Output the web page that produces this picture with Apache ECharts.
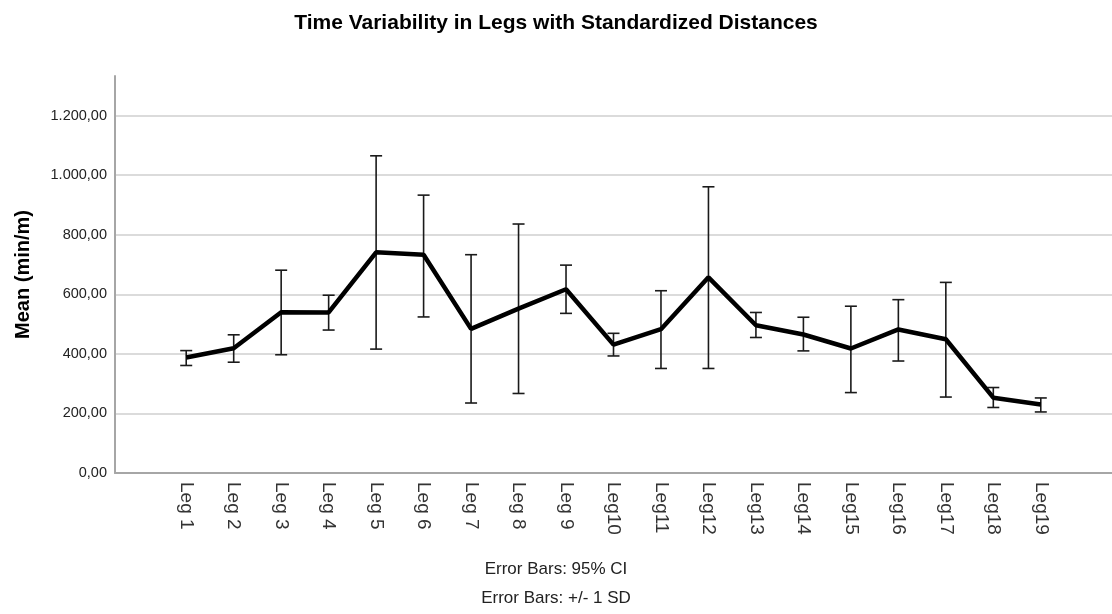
<!DOCTYPE html>
<html>
<head>
<meta charset="utf-8">
<title>Time Variability in Legs with Standardized Distances</title>
<script src="https://cdn.jsdelivr.net/npm/echarts@6/dist/echarts.min.js"></script>
<style>
  html, body { margin: 0; padding: 0; background: #fff; }
  #main { width: 1112px; height: 614px; }
</style>
</head>
<body>
<div id="main"></div>
<script>
var legs = ['Leg 1', 'Leg 2', 'Leg 3', 'Leg 4', 'Leg 5', 'Leg 6', 'Leg 7', 'Leg 8', 'Leg 9', 'Leg10',
  'Leg11', 'Leg12', 'Leg13', 'Leg14', 'Leg15', 'Leg16', 'Leg17', 'Leg18', 'Leg19']
var means = [388, 419, 540, 539, 741, 733, 484, 552, 617, 431, 483, 657, 496, 465, 418, 482, 449, 253, 230]
var upper = [411, 464, 681, 597, 1065, 933, 733, 836, 698, 469, 612, 961, 539, 523, 560, 582, 640, 287, 252]
var lower = [361, 372, 397, 480, 416, 524, 235, 267, 536, 393, 351, 351, 455, 410, 270, 376, 255, 220, 205]
var footnotes = ['Error Bars: 95% CI', 'Error Bars: +/- 1 SD']

var font = 'Liberation Sans, Arial, sans-serif'

// empty slots on both ends so the legs sit away from the y axis like the original
var cats = [''].concat(legs).concat([' '])

function errorBar(params, api) {
  var x = api.value(0)
  var hi = api.coord([x, api.value(1)])
  var lo = api.coord([x, api.value(2)])
  var half = 6
  var style = { stroke: '#1a1a1a', lineWidth: 1.6 }
  return {
    type: 'group',
    children: [
      { type: 'line', shape: { x1: hi[0], y1: hi[1], x2: lo[0], y2: lo[1] }, style: style },
      { type: 'line', shape: { x1: hi[0] - half, y1: hi[1], x2: hi[0] + half, y2: hi[1] }, style: style },
      { type: 'line', shape: { x1: lo[0] - half, y1: lo[1], x2: lo[0] + half, y2: lo[1] }, style: style }
    ]
  }
}

var myChart = echarts.init(document.getElementById('main'))
var option = {
  backgroundColor: '#fff',
  animation: false,
  title: {
    text: 'Time Variability in Legs with Standardized Distances',
    left: 'center',
    top: 8,
    textStyle: { fontFamily: font, fontSize: 21, fontWeight: 'bold', color: '#000' }
  },
  grid: { left: 115, right: 0, top: 76, bottom: 141 },
  xAxis: {
    type: 'category',
    data: cats,
    boundaryGap: true,
    axisLine: { lineStyle: { color: '#a6a6a6', width: 2 } },
    axisTick: { show: false },
    axisLabel: {
      rotate: -90,
      interval: 0,
      margin: 9,
      fontFamily: font,
      fontSize: 19,
      color: '#333'
    },
    splitLine: { show: false }
  },
  yAxis: {
    type: 'value',
    min: 0,
    max: 1333,
    interval: 200,
    name: 'Mean (min/m)',
    nameLocation: 'middle',
    nameRotate: 90,
    nameGap: 82,
    nameTextStyle: { fontFamily: font, fontSize: 20, fontWeight: 'bold', color: '#000' },
    axisLine: { show: true, lineStyle: { color: '#a6a6a6', width: 2 } },
    axisTick: { show: false },
    axisLabel: {
      margin: 8,
      fontFamily: font,
      fontSize: 14.5,
      color: '#222',
      showMaxLabel: false,
      formatter: function (v) {
        return v.toLocaleString('de-DE', { minimumFractionDigits: 2, maximumFractionDigits: 2 })
      }
    },
    splitLine: { show: true, showMaxLine: false, lineStyle: { color: '#cfcfcf', width: 1.5 } }
  },
  graphic: footnotes.map(function (t, i) {
    return {
      type: 'text',
      left: 'center',
      top: 561 + i * 29,
      style: { text: t, fontFamily: font, fontSize: 17, fill: '#222' }
    }
  }),
  series: [{
    type: 'custom',
    renderItem: errorBar,
    encode: { x: 0, y: [1, 2] },
    data: legs.map(function (l, i) { return [l, upper[i], lower[i]] }),
    z: 2
  }, {
    type: 'line',
    data: legs.map(function (l, i) { return [l, means[i]] }),
    symbol: 'none',
    lineStyle: { color: '#000', width: 4.5 },
    z: 3
  }]
}
myChart.setOption(option)
</script>
</body>
</html>
